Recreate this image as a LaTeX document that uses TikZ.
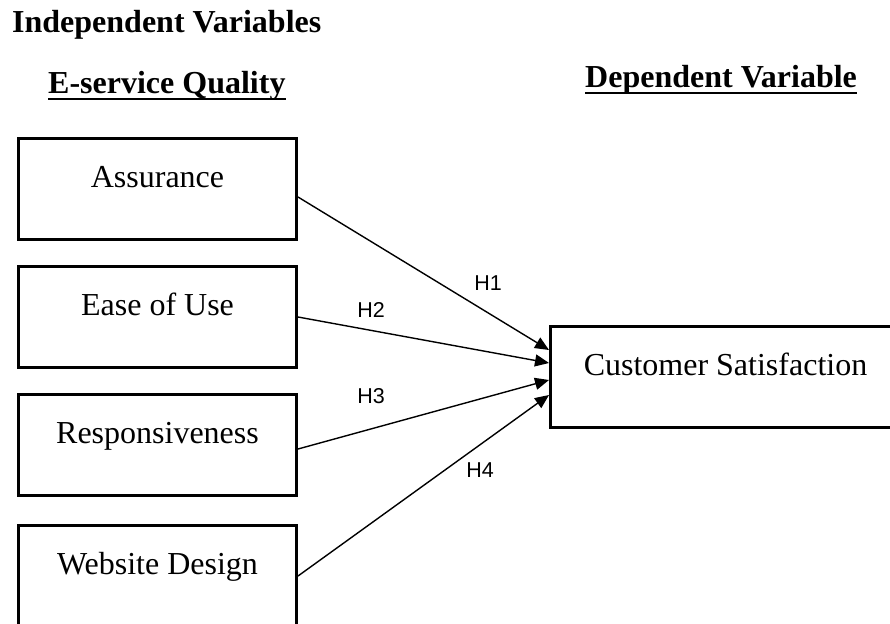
\documentclass[tikz,border=0pt]{standalone}
\usepackage{fontspec}
\setmainfont{Liberation Serif}
\newfontfamily\hypfont{Liberation Sans}
\usepackage{tikz}
\usetikzlibrary{arrows.meta,positioning}
\tikzset{
  varbox/.style={rectangle,draw=black,line width=3pt,minimum width=278pt,minimum height=101pt,
    inner sep=0pt,text height=22pt,text depth=26pt,font=\fontsize{32}{38}\selectfont},
  heading/.style={inner sep=0pt,anchor=base west,font=\fontsize{32}{38}\selectfont\bfseries},
  hyp/.style={inner sep=0pt,font=\fontsize{21.5}{25}\selectfont\hypfont},
  underl/.style={line width=2.5pt,draw=black},
  arrow/.style={-{Triangle[length=14pt,width=12pt]},line width=1.4pt,draw=black}
}
\begin{document}
\begin{tikzpicture}[x=1pt,y=-1pt,node distance=24pt]
\useasboundingbox (0,0) rectangle (890,623);
\clip (0,0) rectangle (890,623);
% headings
\node[heading] (indep) at (12,33) {Independent Variables};
\node[heading] (eq) at (48,94) {E-service Quality};
\node[heading] (dep) at (585,88) {Dependent Variable};
\draw[underl] ([yshift=-5pt]eq.base west) -- ([yshift=-5pt]eq.base east);
\draw[underl] ([yshift=-5pt]dep.base west) -- ([yshift=-5pt]dep.base east);
% independent variables
\node[varbox] (assur) at (157.5,189) {Assurance};
\node[varbox,below=of assur] (ease) {Ease of Use};
\node[varbox,below=of ease] (resp) {Responsiveness};
\node[varbox,below=27pt of resp] (web) {Website Design};
% dependent variable
\node[varbox,minimum width=350pt] (cs) at (725.5,377) {Customer Satisfaction};
% hypotheses
\draw[arrow] ([yshift=-8pt]assur.east) -- ([yshift=27pt]cs.west);
\draw[arrow] (ease.east) -- ([yshift=14pt]cs.west);
\draw[arrow] ([yshift=-4pt]resp.east) -- ([yshift=-3pt]cs.west);
\draw[arrow] (web.east) -- ([yshift=-18pt]cs.west);
\node[hyp] (h1) at (488,283) {H1};
\node[hyp] (h2) at (371,310) {H2};
\node[hyp] (h3) at (371,396) {H3};
\node[hyp] (h4) at (480,470) {H4};
\end{tikzpicture}
\end{document}
